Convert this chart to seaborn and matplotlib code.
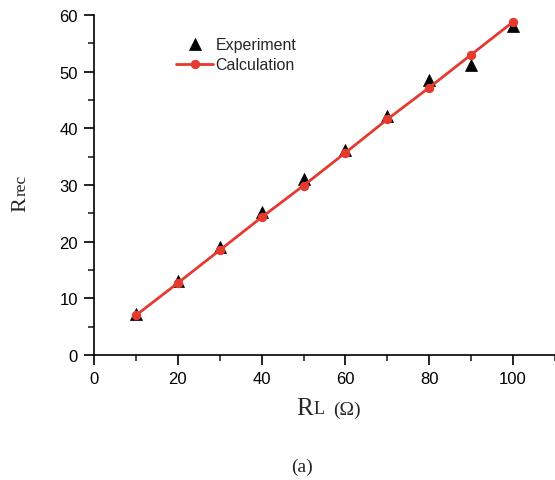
import matplotlib
matplotlib.use("Agg")
import matplotlib.pyplot as plt
import seaborn as sns
import pandas as pd
from matplotlib.ticker import MultipleLocator

# values
rl = [10, 20, 30, 40, 50, 60, 70, 80, 90, 100]
experiment = [7.2, 13.0, 19.0, 25.2, 31.1, 36.1, 42.2, 48.6, 51.1, 58.0]
calculation = [7.0, 12.7, 18.5, 24.3, 29.9, 35.7, 41.6, 47.2, 53.0, 58.8]

df = pd.DataFrame({"RL": rl, "Experiment": experiment, "Calculation": calculation})

sns.set_style("ticks")
plt.rcParams["font.family"] = ["Liberation Sans", "DejaVu Sans"]

fig = plt.figure(figsize=(5.55, 4.81), dpi=100)
ax = fig.add_axes([94 / 555, 1 - 356 / 481, 1 - 94 / 555, (356 - 16) / 481])

red = "#e53a2f"
sns.scatterplot(data=df, x="RL", y="Experiment", marker="^", s=75, color="black",
                edgecolor="black", linewidth=0.5, ax=ax, label="Experiment", zorder=2)
sns.lineplot(data=df, x="RL", y="Calculation", marker="o", markersize=6, color=red,
             markeredgecolor=red, linewidth=2, ax=ax, label="Calculation", zorder=3)

ax.set_xlim(0, 110)
ax.set_ylim(0, 60)
ax.xaxis.set_major_locator(MultipleLocator(20))
ax.xaxis.set_minor_locator(MultipleLocator(10))
ax.yaxis.set_major_locator(MultipleLocator(10))
ax.yaxis.set_minor_locator(MultipleLocator(5))
ax.tick_params(which="major", length=7.5, width=1.2, direction="out", pad=4,
               labelsize=12, colors="black")
ax.tick_params(which="minor", length=4.5, width=1.2, direction="out")
ax.set_xticks([0, 20, 40, 60, 80, 100])
sns.despine(ax=ax, top=True, right=True)
for s in ["left", "bottom"]:
    ax.spines[s].set_linewidth(1.2)
    ax.spines[s].set_color("black")
ax.set_xlabel("")
ax.set_ylabel("")

ax.legend(loc="upper left", bbox_to_anchor=(0.165, 0.955), frameon=False, fontsize=11.5,
          handlelength=2.3, handletextpad=0.15, labelspacing=0.35, borderaxespad=0)

serif = ["Liberation Serif", "DejaVu Serif"]
fig.text(296 / 555, 1 - 409 / 481, "R", family=serif, fontsize=18, ha="left", va="center")
fig.text(314 / 555, 1 - 410 / 481, "L", family=serif, fontsize=13, ha="left", va="center")
fig.text(333 / 555, 1 - 410 / 481, "(\u03a9)", family=serif, fontsize=14, ha="left", va="center")

fig.text(21 / 555, 1 - 197 / 481, "R", family=serif, fontsize=16, rotation=90, ha="center", va="top")
fig.text(22 / 555, 1 - 196 / 481, "rec", family=serif, fontsize=12.5, rotation=90, ha="center", va="bottom")

fig.text(302 / 555, 1 - 467 / 481, "(a)", family=serif, fontsize=14, ha="center", va="center")

fig.savefig("out.png", dpi=100)
